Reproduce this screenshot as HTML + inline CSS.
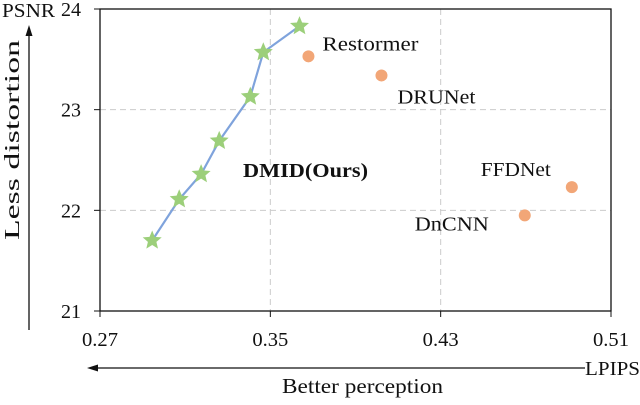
<!DOCTYPE html>
<html><head><meta charset="utf-8"><style>
body{margin:0;background:#fff}
svg text{font-family:"Liberation Serif",serif;fill:#111}
</style></head><body>
<svg id="chart" width="640" height="400" viewBox="0 0 640 400" xmlns="http://www.w3.org/2000/svg">
<g id="grid"></g>
<rect x="100" y="9" width="511" height="302" fill="none" stroke="#111" stroke-width="1.3"/>
<g id="ticks"></g>
<g id="marks"></g>
<text x="2" y="17" font-size="20" textLength="53" lengthAdjust="spacingAndGlyphs">PSNR</text>
<line x1="29" y1="330" x2="29" y2="34" stroke="#111" stroke-width="1.3"/>
<polygon points="29,25 25.5,36 32.5,36" fill="#111"/>
<text transform="translate(19,140) rotate(-90)" text-anchor="middle" font-size="21" textLength="200" lengthAdjust="spacingAndGlyphs">Less distortion</text>
<line x1="585" y1="368" x2="96" y2="368" stroke="#111" stroke-width="1.3"/>
<polygon points="87,368 98,364.5 98,371.5" fill="#111"/>
<text x="585" y="375" font-size="20" textLength="55" lengthAdjust="spacingAndGlyphs">LPIPS</text>
<text x="282" y="393" font-size="21" textLength="161" lengthAdjust="spacingAndGlyphs">Better perception</text>
<text x="243" y="177" font-size="20" font-weight="bold" textLength="125" lengthAdjust="spacingAndGlyphs">DMID(Ours)</text>
</svg>
<script>
const xTicks=[0.27,0.35,0.43,0.51];
const yTicks=[21,22,23,24];
const dmidLpips=[0.2945,0.3072,0.3175,0.326,0.3406,0.3467,0.3637];
const dmidPsnr=[21.70,22.11,22.36,22.69,23.13,23.57,23.83];
const baseNames=["Restormer","DRUNet","FFDNet","DnCNN"];
const baseLpips=[0.3679,0.4022,0.4916,0.4695];
const basePsnr=[23.53,23.34,22.23,21.95];
const labelOff=[[14,-6],[16,28],[-91,-11],[-110,15]];
const labelLen=[96,78,70,74];
const NS="http://www.w3.org/2000/svg";
const X=v=>100+(v-0.27)/0.24*511;
const Y=v=>311-(v-21)/3*302;
function mk(t,a,p){const e=document.createElementNS(NS,t);for(const k in a)e.setAttribute(k,a[k]);document.getElementById(p).appendChild(e);return e;}
xTicks.forEach((t,i)=>{
 if(i>0&&i<xTicks.length-1){const g=mk('line',{x1:X(t),x2:X(t),y1:9,y2:311,stroke:'#ccc','stroke-dasharray':'6,4'},'grid');
 
 }
 const l=mk('line',{x1:X(t),x2:X(t),y1:311,y2:317,stroke:'#111'},'ticks');
 
 
 const tx=mk('text',{x:X(t),y:346,'text-anchor':'middle','font-size':20,textLength:36,lengthAdjust:'spacingAndGlyphs'},'ticks');tx.textContent=t.toFixed(2);
 
 
});
yTicks.forEach((t,i)=>{
 if(i>0&&i<yTicks.length-1){const g=mk('line',{x1:100,x2:611,y1:Y(t),y2:Y(t),stroke:'#ccc','stroke-dasharray':'6,4'},'grid');
 
 }
 const l=mk('line',{x1:94,x2:100,y1:Y(t),y2:Y(t),stroke:'#111'},'ticks');
 
 
 const tx=mk('text',{x:81,y:Y(t)+7,'text-anchor':'end','font-size':20},'ticks');tx.textContent=t;
 
 
});
const pl=mk('polyline',{points:dmidLpips.map((v,i)=>X(v)+','+Y(dmidPsnr[i])).join(' '),fill:'none',stroke:'#7fa3dc','stroke-width':2.2},'marks');


function star(cx,cy,r){let p=[];for(let k=0;k<10;k++){const a=-Math.PI/2+k*Math.PI/5,rr=k%2?r*0.45:r;p.push((cx+rr*Math.cos(a)).toFixed(1)+','+(cy+rr*Math.sin(a)).toFixed(1));}return p.join(' ');}
dmidLpips.forEach((v,i)=>{const s=mk('polygon',{points:star(X(v),Y(dmidPsnr[i]),10),fill:'#9ccf7a'},'marks');
 
 });
baseNames.forEach((n,i)=>{const cx=X(baseLpips[i]),cy=Y(basePsnr[i]);
 const c=mk('circle',{cx:cx,cy:cy,r:6,fill:'#f2a677'},'marks');
 
 
 const t=mk('text',{x:cx+labelOff[i][0],y:cy+labelOff[i][1],'font-size':20,textLength:labelLen[i],lengthAdjust:'spacingAndGlyphs'},'marks');t.textContent=n;
 
 });
</script>
</body></html>
